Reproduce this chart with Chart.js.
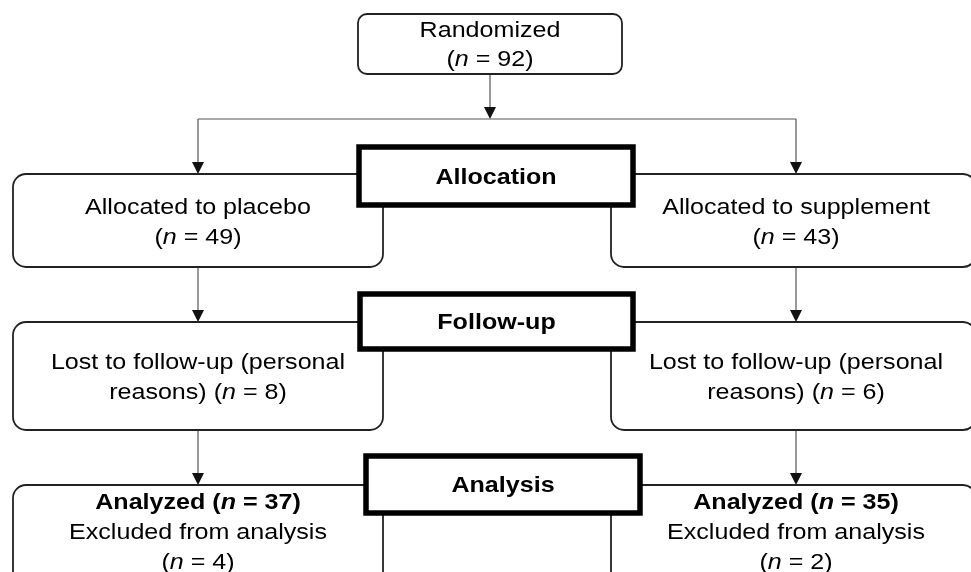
<!DOCTYPE html>
<html>
<head>
<meta charset="utf-8">
<script src="https://cdn.jsdelivr.net/npm/chart.js@4"></script>
<style>
  html, body { margin: 0; padding: 0; background: #fff; }
  #wrap { width: 971px; height: 572px; }
</style>
</head>
<body>
<div id="wrap"><canvas id="flow"></canvas></div>
<script>
// counts
const stageLabels = ['Allocation', 'Follow-up', 'Analysis'];
const armLabels = ['placebo', 'supplement'];
const randomizedN = 92;
const allocatedN = [49, 43];
const lostN = [8, 6];
const analyzedN = [37, 35];
const excludedN = [4, 2];

// layout, in units of the hidden axes (0..971 across, 0..572 down)
const armX = [198, 796];
const armBox = [[13, 383], [611, 976]];
const rowBox = [[174, 267], [322, 430], [485, 610]];
const stageBox = [[359, 633, 147, 205], [360, 633, 294, 349], [366, 640, 456, 513]];
const stageTextY = [178, 323, 486];
const randBox = [358, 622, 14, 74];
const splitY = 119;

const FONT = '"Liberation Sans", Arial, sans-serif';
const FONT_SIZE = 22;
const STRETCH = 1.14; // the source picture is stretched sideways

function runs(str) {
    // split "(n = 4)" style text so that n can be set in italics
    const out = [];
    str.split(/(\bn\b)/).forEach(part => {
        if (part === '') return;
        out.push({ t: part, italic: part === 'n' });
    });
    return out;
}

function armText(i) {
    return [
        { y: 208, lines: runs('Allocated to ' + armLabels[i]) },
        { y: 238, lines: runs('(n = ' + allocatedN[i] + ')') },
        { y: 363, lines: runs('Lost to follow-up (personal') },
        { y: 393, lines: runs('reasons) (n = ' + lostN[i] + ')') },
        { y: 503, lines: runs('Analyzed (n = ' + analyzedN[i] + ')'), bold: true },
        { y: 533, lines: runs('Excluded from analysis') },
        { y: 563, lines: runs('(n = ' + excludedN[i] + ')') }
    ];
}

function fontFor(run, bold) {
    return (run.italic ? 'italic ' : '') + (bold ? 'bold ' : '') + FONT_SIZE + 'px ' + FONT;
}

function drawLine(ctx, cx, cy, parts, bold) {
    let w = 0;
    parts.forEach(p => { ctx.font = fontFor(p, bold); w += ctx.measureText(p.t).width; });
    ctx.save();
    ctx.translate(cx, cy);
    ctx.scale(STRETCH, 1);
    ctx.fillStyle = '#000';
    ctx.textBaseline = 'middle';
    ctx.textAlign = 'left';
    let x = -w / 2;
    parts.forEach(p => {
        ctx.font = fontFor(p, bold);
        ctx.fillText(p.t, x, 0);
        x += ctx.measureText(p.t).width;
    });
    ctx.restore();
}

function roundBox(ctx, x0, x1, y0, y1, r) {
    ctx.beginPath();
    ctx.roundRect(x0, y0, x1 - x0, y1 - y0, r);
    ctx.fillStyle = '#fff';
    ctx.fill();
    ctx.lineWidth = 1.8;
    ctx.strokeStyle = '#222';
    ctx.stroke();
}

function arrow(ctx, x, y0, y1) {
    ctx.beginPath();
    ctx.moveTo(x, y0);
    ctx.lineTo(x, y1 - 10);
    ctx.lineWidth = 1.2;
    ctx.strokeStyle = '#555';
    ctx.stroke();
    ctx.beginPath();
    ctx.moveTo(x - 6, y1 - 12);
    ctx.lineTo(x + 6, y1 - 12);
    ctx.lineTo(x, y1);
    ctx.closePath();
    ctx.fillStyle = '#111';
    ctx.fill();
}

const flowPlugin = {
    id: 'flow',
    afterDraw(chart) {
        const ctx = chart.ctx;
        const px = v => chart.scales.x.getPixelForValue(v);
        const py = v => chart.scales.y.getPixelForValue(v);
        ctx.save();

        // connectors
        arrow(ctx, px((randBox[0] + randBox[1]) / 2), py(randBox[3]), py(splitY));
        ctx.beginPath();
        ctx.moveTo(px(armX[0]), py(splitY));
        ctx.lineTo(px(armX[1]), py(splitY));
        ctx.lineWidth = 1.2;
        ctx.strokeStyle = '#555';
        ctx.stroke();
        armX.forEach(x => {
            arrow(ctx, px(x), py(splitY), py(rowBox[0][0]));
            arrow(ctx, px(x), py(rowBox[0][1]), py(rowBox[1][0]));
            arrow(ctx, px(x), py(rowBox[1][1]), py(rowBox[2][0]));
        });

        // randomized box
        roundBox(ctx, px(randBox[0]), px(randBox[1]), py(randBox[2]), py(randBox[3]), 9);
        const rx = px((randBox[0] + randBox[1]) / 2);
        drawLine(ctx, rx, py(31), runs('Randomized'), false);
        drawLine(ctx, rx, py(60), runs('(n = ' + randomizedN + ')'), false);

        // arm boxes
        armBox.forEach((b, i) => {
            rowBox.forEach(r => roundBox(ctx, px(b[0]), px(b[1]), py(r[0]), py(r[1]), 13));
            armText(i).forEach(l => drawLine(ctx, px(armX[i]), py(l.y), l.lines, l.bold));
        });

        // stage boxes on top
        stageBox.forEach((s, i) => {
            ctx.beginPath();
            ctx.rect(px(s[0]), py(s[2]), px(s[1]) - px(s[0]), py(s[3]) - py(s[2]));
            ctx.fillStyle = '#fff';
            ctx.fill();
            ctx.lineWidth = 5.5;
            ctx.strokeStyle = '#000';
            ctx.stroke();
            drawLine(ctx, px((s[0] + s[1]) / 2), py(stageTextY[i]), [{ t: stageLabels[i] }], true);
        });

        ctx.restore();
    }
};

new Chart(document.getElementById('flow'), {
    type: 'scatter',
    data: { datasets: [{ data: [], pointRadius: 0 }] },
    options: {
        responsive: true,
        maintainAspectRatio: false,
        animation: false,
        layout: { padding: 0 },
        plugins: { legend: { display: false }, tooltip: { enabled: false } },
        scales: {
            x: { type: 'linear', min: 0, max: 971, display: false },
            y: { type: 'linear', min: 0, max: 572, reverse: true, display: false }
        }
    },
    plugins: [flowPlugin]
});
</script>
</body>
</html>
